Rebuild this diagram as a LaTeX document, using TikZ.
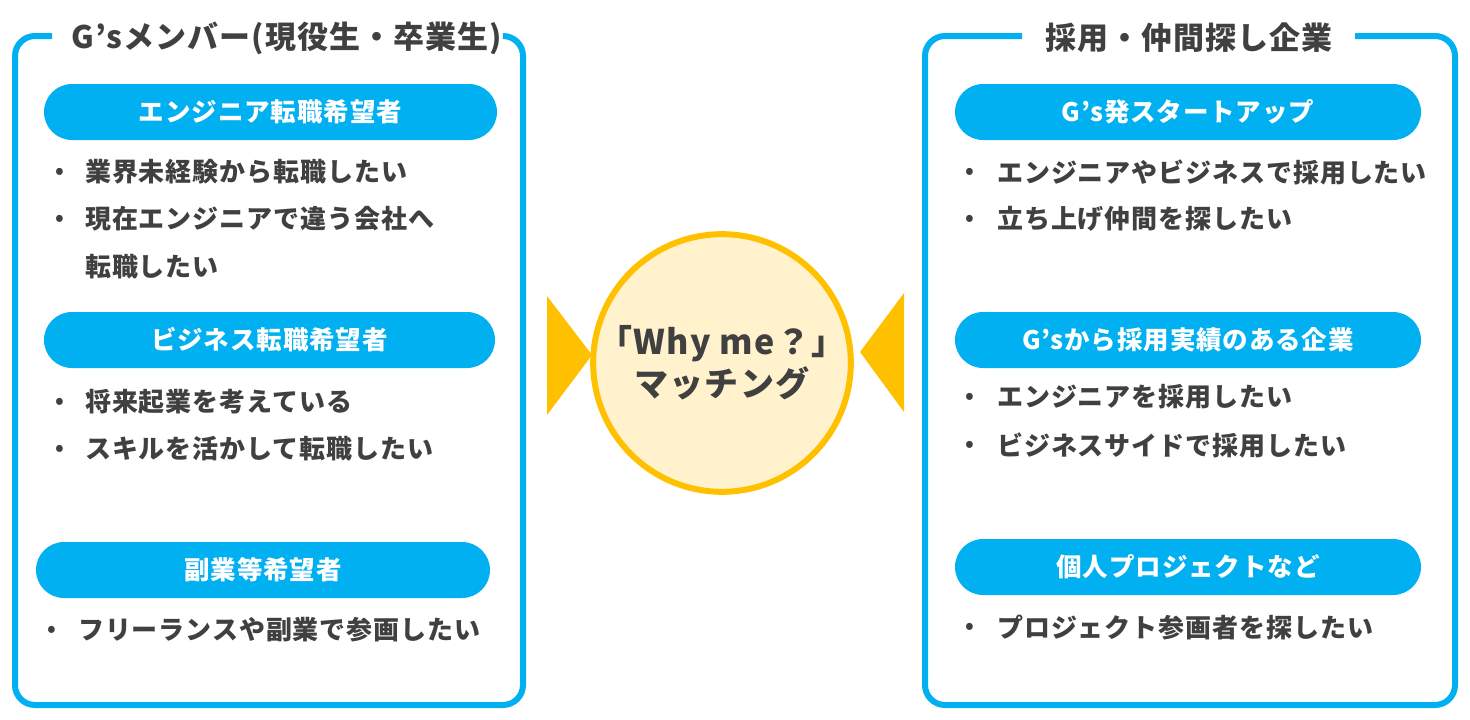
\documentclass[tikz,border=0pt]{standalone}
\usepackage{fontspec}
\setmainfont{Noto Sans CJK JP}[LetterSpace=3.5]
\definecolor{gsblue}{HTML}{00B0F0}
\definecolor{txt}{HTML}{404040}
\definecolor{gold}{HTML}{FFC000}
\definecolor{cream}{HTML}{FFF2CC}
\begin{document}
\begin{tikzpicture}[x=1pt,y=-1pt,
  frame/.style={draw=gsblue,line width=6pt,rounded corners=20pt},
  title/.style={text=txt,font=\fontsize{31}{36}\selectfont\bfseries,inner sep=0pt},
  pill/.style={fill=gsblue,rounded corners=28pt,minimum height=56pt,inner sep=0pt,
    text=white,font=\fontsize{25.5}{30}\selectfont\bfseries},
  item/.style={anchor=west,text=txt,font=\fontsize{26}{34}\selectfont\bfseries,inner sep=0pt},
  dot/.style={text=txt,font=\fontsize{22}{26}\selectfont\bfseries,inner sep=0pt},
  tri/.style={fill=gold,draw=none}]
\useasboundingbox (0,0) rectangle (1470,720);
% frames
\draw[frame] (52,36) -- (15,36) -- (15,705) -- (523,705) -- (523,36) -- (505,36);
\draw[frame] (1022,36) -- (925,36) -- (925,705) -- (1455,705) -- (1455,36) -- (1355,36);
\node[title] (tl) at (287,38) {G’sメンバー(現役生・卒業生)};
\node[title] (tr) at (1189,38) {採用・仲間探し企業};
% left pills
\node[pill,minimum width=453pt] (p1) at (270.5,112) {エンジニア転職希望者};
\node[pill,minimum width=451pt] (p2) at (269.5,340) {ビジネス転職希望者};
\node[pill,minimum width=454pt] (p3) at (263,570) {副業等希望者};
% right pills
\node[pill,minimum width=466pt] (q1) at (1188,112) {G’s発スタートアップ};
\node[pill,minimum width=466pt] (q2) at (1188,340) {G’sから採用実績のある企業};
\node[pill,minimum width=466pt] (q3) at (1188,567) {個人プロジェクトなど};
% left items
\node[dot] (d1) at (60,173) {•};
\node[item] (l1) at (85,172) {業界未経験から転職したい};
\node[dot] (d2) at (60,220) {•};
\node[item] (l2) at (85,219) {現在エンジニアで違う会社へ};
\node[item] (l3) at (85,267) {転職したい};
\node[dot] (d3) at (60,403) {•};
\node[item] (l4) at (85,402) {将来起業を考えている};
\node[dot] (d4) at (60,450) {•};
\node[item] (l5) at (85,449) {スキルを活かして転職したい};
\node[dot] (d5) at (52,631) {•};
\node[item] (l6) at (78,630) {フリーランスや副業で参画したい};
% right items
\node[dot] (e1) at (970,173) {•};
\node[item] (r1) at (997,172) {エンジニアやビジネスで採用したい};
\node[dot] (e2) at (970,220) {•};
\node[item] (r2) at (997,219) {立ち上げ仲間を探したい};
\node[dot] (e3) at (970,398) {•};
\node[item] (r3) at (997,397) {エンジニアを採用したい};
\node[dot] (e4) at (970,446) {•};
\node[item] (r4) at (997,445) {ビジネスサイドで採用したい};
\node[dot] (e5) at (970,628) {•};
\node[item] (r5) at (997,627) {プロジェクト参画者を探したい};
% center
\node[circle,draw=gold,fill=cream,line width=6pt,minimum size=238pt,inner sep=0pt,
  text=txt,font=\fontsize{34}{42}\selectfont\bfseries,align=center] (c) at (722,363)
  {「Why me？」\\マッチング};
\fill[tri] (547,296) -- (592,355) -- (547,415) -- cycle;
\fill[tri] (904,293) -- (860,352) -- (904,412) -- cycle;
\end{tikzpicture}
\end{document}
